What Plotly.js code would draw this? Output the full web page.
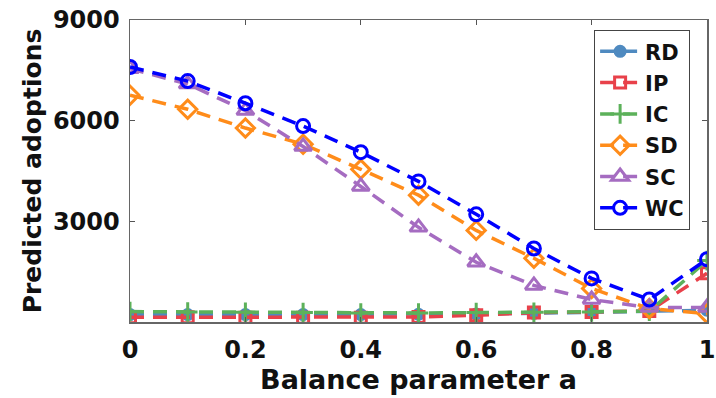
<!DOCTYPE html>
<html>
<head>
<meta charset="utf-8">
<script src="https://cdn.plot.ly/plotly-3.0.1.min.js"></script>
<style>html,body{margin:0;padding:0;background:#fff;}#chart{width:716px;height:398px;}</style>
</head>
<body>
<div id="chart"></div>
<script>
const balanceA = [0, 0.1, 0.2, 0.3, 0.4, 0.5, 0.6, 0.7, 0.8, 0.9, 1.0];
const rdValues = [220, 220, 220, 220, 220, 230, 240, 260, 290, 300, 350];
const ipValues = [140, 140, 130, 130, 130, 150, 200, 280, 300, 330, 1450];
const icValues = [310, 300, 290, 280, 270, 270, 280, 290, 300, 320, 1830];
const sdValues = [6760, 6340, 5780, 5300, 4550, 3780, 2730, 1900, 1000, 400, 250];
const scValues = [7550, 7090, 6300, 5230, 4040, 2820, 1780, 1090, 670, 430, 430];
const wcValues = [7600, 7180, 6520, 5840, 5060, 4190, 3210, 2190, 1300, 670, 1870];
const seriesNames = ['RD', 'IP', 'IC', 'SD', 'SC', 'WC'];
const yTicks = [3000, 6000, 9000];
const xTicks = [0, 0.2, 0.4, 0.6, 0.8, 1];
const xTickText = ['0', '0.2', '0.4', '0.6', '0.8', '1'];

const styles = [
  {color: '#4f8ac0', symbol: 'circle', size: 10},
  {color: '#e8414a', symbol: 'square-open', size: 11},
  {color: '#5cb15a', symbol: 'cross-thin-open', size: 14},
  {color: '#ff8c1a', symbol: 'diamond-open', size: 14},
  {color: '#a56cc1', symbol: 'triangle-up-open', size: 15},
  {color: '#0000ff', symbol: 'circle-open', size: 13}
];
const allValues = [rdValues, ipValues, icValues, sdValues, scValues, wcValues];

const traces = allValues.map((vals, i) => ({
  x: balanceA,
  y: vals,
  name: seriesNames[i],
  legendgroup: 'g' + i,
  type: 'scatter',
  mode: 'lines+markers',
  line: {color: styles[i].color, width: 3.5, dash: '14px,9px'},
  marker: {symbol: styles[i].symbol, size: styles[i].size, color: styles[i].color,
           line: {color: styles[i].color, width: 3}}
}));

const font = {family: 'DejaVu Sans, Liberation Sans, Arial, sans-serif', color: '#111', weight: 'bold'};

const layout = {
  width: 716, height: 398,
  margin: {l: 130, r: 9, t: 20, b: 76},
  paper_bgcolor: '#fff', plot_bgcolor: '#fff',
  showlegend: true,
  legend: {
    x: 0.804, y: 0.967, xanchor: 'left', yanchor: 'top',
    bgcolor: '#fff', bordercolor: '#444', borderwidth: 1.2,
    font: Object.assign({}, font, {size: 21}),
    tracegroupgap: 1, traceorder: 'grouped', itemwidth: 40
  },
  xaxis: {
    range: [0, 1], tickvals: xTicks, ticktext: xTickText,
    ticks: 'inside', ticklen: 5, tickcolor: '#555',
    showline: true, linecolor: '#666', linewidth: 1.5, mirror: 'ticks',
    showgrid: false, zeroline: false, ticklabelstandoff: 6,
    ticklabeloverflow: 'allow',
    tickfont: Object.assign({}, font, {size: 24}),
    title: {text: 'Balance parameter a', font: Object.assign({}, font, {size: 27}), standoff: 6}
  },
  yaxis: {
    range: [0, 9000], tickvals: yTicks,
    ticks: 'inside', ticklen: 5, tickcolor: '#555',
    showline: true, linecolor: '#666', linewidth: 1.5, mirror: 'ticks',
    showgrid: false, zeroline: false, ticklabelstandoff: 4,
    tickfont: Object.assign({}, font, {size: 24}),
    title: {text: 'Predicted adoptions', font: Object.assign({}, font, {size: 25}), standoff: 4}
  }
};

Plotly.newPlot('chart', traces, layout, {displayModeBar: false, staticPlot: true});
</script>
</body>
</html>
